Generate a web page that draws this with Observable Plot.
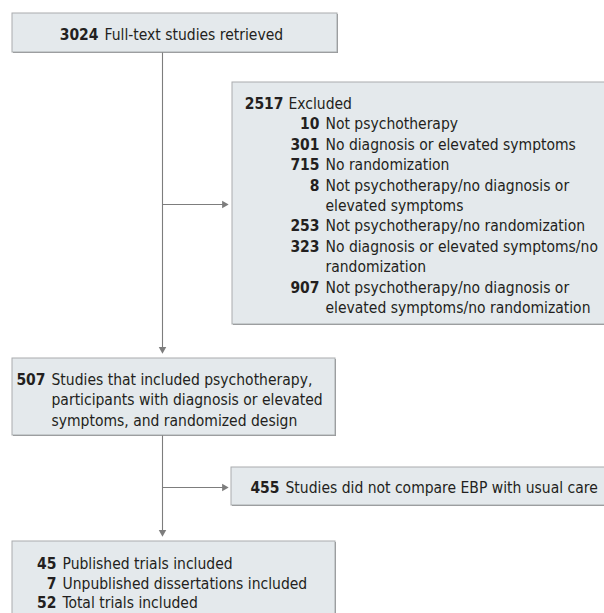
<!DOCTYPE html>
<html>
<head>
<meta charset="utf-8">
<script src="https://cdn.jsdelivr.net/npm/d3@7"></script>
<script src="https://cdn.jsdelivr.net/npm/@observablehq/plot@0.6"></script>
<style>
  html, body { margin: 0; padding: 0; background: #fff; }
  #chart svg { display: block; }
</style>
</head>
<body>
<div id="chart"></div>
<script>
// ---------- data ----------
const retrievedCount = 3024;
const retrievedLabel = "Full-text studies retrieved";

const excludedTotal = 2517;
const excludedTotalLabel = "Excluded";
const excludedCounts = [10, 301, 715, 8, 253, 323, 907];
const excludedReasons = [
  "Not psychotherapy",
  "No diagnosis or elevated symptoms",
  "No randomization",
  "Not psychotherapy/no diagnosis or\nelevated symptoms",
  "Not psychotherapy/no randomization",
  "No diagnosis or elevated symptoms/no\nrandomization",
  "Not psychotherapy/no diagnosis or\nelevated symptoms/no randomization"
];

const eligibleCount = 507;
const eligibleLabel = "Studies that included psychotherapy,\nparticipants with diagnosis or elevated\nsymptoms, and randomized design";

const ebpExcludedCount = 455;
const ebpExcludedLabel = "Studies did not compare EBP with usual care";

const includedCounts = [45, 7, 52];
const includedLabels = [
  "Published trials included",
  "Unpublished dissertations included",
  "Total trials included"
];

// ---------- layout ----------
const W = 604, H = 613;
const FONT = 15.5, LINE = 20.4;
const GAP = 6;
const trunkX = 162;
const L = {
  box1: {x1: 12, x2: 337, y1: 13, y2: 52},
  excl: {x1: 232, x2: 608, y1: 82, y2: 324},
  box2: {x1: 12, x2: 335, y1: 358, y2: 435},
  ebp:  {x1: 231, x2: 608, y1: 467, y2: 505},
  box3: {x1: 12, x2: 335, y1: 541, y2: 625}
};
const boxes = Object.values(L);

const tipH = 4.2; // distance from triangle centre to tip
const connectors = [
  {x1: trunkX, y1: L.box1.y2, x2: trunkX, y2: L.box2.y1 - 6},
  {x1: trunkX, y1: 204, x2: L.excl.x1 - 6, y2: 204},
  {x1: trunkX, y1: L.box2.y2, x2: trunkX, y2: L.box3.y1 - 6},
  {x1: trunkX, y1: 487, x2: L.ebp.x1 - 6, y2: 487}
];
const tips = [
  {x: trunkX, y: L.box2.y1 - 5 - tipH, rot: 180},
  {x: L.excl.x1 - 4 - tipH, y: 204, rot: 90},
  {x: trunkX, y: L.box3.y1 - 5 - tipH, rot: 180},
  {x: L.ebp.x1 - 3 - tipH, y: 487, rot: 90}
];

// text rows
const nums = [];
const labels = [];
function addRow(count, label, numEnd, y, gap = GAP) {
  const n = label.split("\n").length;
  nums.push({x: numEnd, y, text: String(count)});
  labels.push({x: numEnd + gap, y: y + (n - 1) * LINE / 2, text: label});
  return n;
}
addRow(retrievedCount, retrievedLabel, 98, 33);

const exY0 = 102;
addRow(excludedTotal, excludedTotalLabel, 283, exY0, 5);
let slot = 1;
excludedCounts.forEach((c, i) => {
  slot += addRow(c, excludedReasons[i], 319, exY0 + slot * LINE);
});

addRow(eligibleCount, eligibleLabel, 45, 378);
addRow(ebpExcludedCount, ebpExcludedLabel, 279, 486);
includedCounts.forEach((c, i) => addRow(c, includedLabels[i], 56, 562 + i * 19.5));

const chart = Plot.plot({
  width: W,
  height: H,
  margin: 0,
  x: {domain: [0, W], range: [0, W], axis: null},
  y: {domain: [0, H], range: [0, H], axis: null},
  style: {fontFamily: "'DejaVu Sans Condensed', 'DejaVu Sans', sans-serif", fontStretch: "condensed", fontSize: FONT + "px", color: "#231f20"},
  marks: [
    Plot.rect(boxes, {x1: "x1", x2: "x2", y1: "y1", y2: "y2", fill: "#8e9193", dx: 1, dy: 1}),
    Plot.rect(boxes, {x1: "x1", x2: "x2", y1: "y1", y2: "y2", fill: "#e4e9ec", stroke: "#a9acae", strokeWidth: 1}),
    Plot.link(connectors, {x1: "x1", y1: "y1", x2: "x2", y2: "y2", stroke: "#7d7d7d", strokeWidth: 1.1}),
    Plot.dot(tips, {x: "x", y: "y", symbol: "triangle", r: 2.8, rotate: "rot", fill: "#7d7d7d", stroke: null}),
    Plot.text(nums, {x: "x", y: "y", text: "text", textAnchor: "end", fontWeight: "bold", fontSize: FONT, fill: "#231f20", lineHeight: LINE / FONT}),
    Plot.text(labels, {x: "x", y: "y", text: "text", textAnchor: "start", fontSize: FONT, fill: "#231f20", lineHeight: LINE / FONT})
  ]
});
document.getElementById("chart").appendChild(chart);
</script>
</body>
</html>
